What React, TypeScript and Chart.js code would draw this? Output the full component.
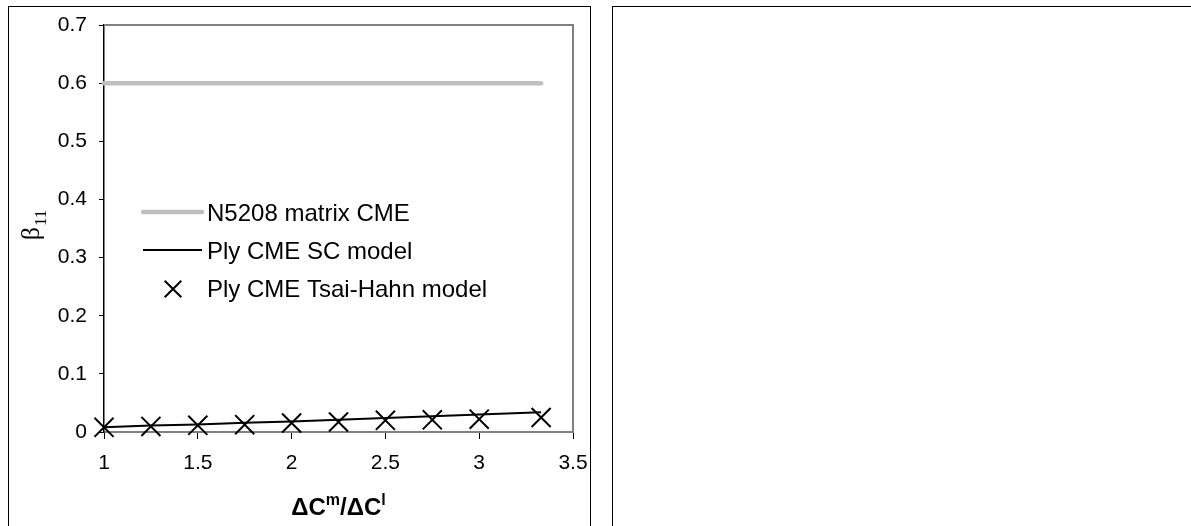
import React, { useEffect, useRef } from "react";
import { Chart, registerables } from "chart.js";

Chart.register(...registerables);

// ---- data ----
const xValues = [1, 1.25, 1.5, 1.75, 2, 2.25, 2.5, 2.75, 3, 3.33];
const matrixCME = [0.6, 0.6, 0.6, 0.6, 0.6, 0.6, 0.6, 0.6, 0.6, 0.6];
const scModel = [0.008, 0.011, 0.013, 0.016, 0.018, 0.021, 0.024, 0.027, 0.03, 0.034];
const tsaiHahn = [0.008, 0.0096, 0.0114, 0.0126, 0.0155, 0.0172, 0.02, 0.021, 0.022, 0.025];
const seriesNames = ["N5208 matrix CME", "Ply CME SC model", "Ply CME Tsai-Hahn model"];
const xTicks = [1, 1.5, 2, 2.5, 3, 3.5];
const yTicks = [0, 0.1, 0.2, 0.3, 0.4, 0.5, 0.6, 0.7];

const SANS = "'Liberation Sans', Arial, sans-serif";
const SERIF = "'Liberation Serif', 'Times New Roman', serif";

const CANVAS_W = 600;
const CANVAS_H = 526;

const decorPlugin = {
  id: "decor",
  beforeDatasetsDraw(chart: any) {
    const { ctx, chartArea } = chart;
    const { left, top, right, bottom } = chartArea;
    ctx.save();
    ctx.strokeStyle = "#808080";
    ctx.lineWidth = 2;
    ctx.beginPath();
    ctx.moveTo(left, top);
    ctx.lineTo(right, top);
    ctx.lineTo(right, bottom);
    ctx.stroke();
    ctx.restore();
  },
  afterDraw(chart: any) {
    const { ctx, chartArea } = chart;
    ctx.save();

    // ---- legend ----
    const lx0 = 143;
    const lx1 = 202;
    const tx = 207;
    const rows = [212, 250, 289];
    ctx.font = `24px ${SANS}`;
    ctx.fillStyle = "#000";
    ctx.textBaseline = "middle";
    ctx.textAlign = "left";

    // row 1: grey thick line
    ctx.strokeStyle = "#c0c0c0";
    ctx.lineWidth = 4.5;
    ctx.lineCap = "round";
    ctx.beginPath();
    ctx.moveTo(lx0, rows[0]);
    ctx.lineTo(lx1, rows[0]);
    ctx.stroke();
    ctx.fillText(seriesNames[0], tx, rows[0] + 2);

    // row 2: black line
    ctx.strokeStyle = "#000";
    ctx.lineWidth = 2;
    ctx.lineCap = "butt";
    ctx.beginPath();
    ctx.moveTo(lx0, rows[1]);
    ctx.lineTo(lx1, rows[1]);
    ctx.stroke();
    ctx.fillText(seriesNames[1], tx, rows[1] + 2);

    // row 3: X marker
    const cx = 173;
    const h = 8.3;
    ctx.beginPath();
    ctx.moveTo(cx - h, rows[2] - h);
    ctx.lineTo(cx + h, rows[2] + h);
    ctx.moveTo(cx + h, rows[2] - h);
    ctx.lineTo(cx - h, rows[2] + h);
    ctx.stroke();
    ctx.fillText(seriesNames[2], tx, rows[2] + 1);

    // ---- x axis title: ΔC^m/ΔC^l ----
    const segs = [
      { t: "\u0394", s: 24, dy: 0 },
      { t: "C", s: 24, dy: 0 },
      { t: "m", s: 16, dy: -10 },
      { t: "/", s: 24, dy: 0 },
      { t: "\u0394", s: 24, dy: 0 },
      { t: "C", s: 24, dy: 0 },
      { t: "l", s: 16, dy: -10 },
    ];
    ctx.textBaseline = "alphabetic";
    let total = 0;
    const widths: number[] = [];
    for (const sg of segs) {
      ctx.font = `bold ${sg.s}px ${SANS}`;
      const w = ctx.measureText(sg.t).width;
      widths.push(w);
      total += w;
    }
    let x = (chartArea.left + chartArea.right) / 2 - total / 2;
    const baseY = 515;
    segs.forEach((sg, i) => {
      ctx.font = `bold ${sg.s}px ${SANS}`;
      ctx.fillText(sg.t, x, baseY + sg.dy);
      x += widths[i];
    });

    // ---- y axis title: β11 ----
    ctx.save();
    ctx.translate(39, (chartArea.top + chartArea.bottom) / 2 - 3);
    ctx.rotate(-Math.PI / 2);
    ctx.font = `26px ${SERIF}`;
    const wb = ctx.measureText("\u03b2").width;
    ctx.font = `17px ${SERIF}`;
    const ws = ctx.measureText("11").width;
    const start = -(wb + ws) / 2;
    ctx.font = `26px ${SERIF}`;
    ctx.fillText("\u03b2", start, 0);
    ctx.font = `17px ${SERIF}`;
    ctx.fillText("11", start + wb + 1, 7);
    ctx.restore();

    ctx.restore();
  },
};

export default function App() {
  const canvasRef = useRef<HTMLCanvasElement | null>(null);

  useEffect(() => {
    if (!canvasRef.current) return;
    const chart = new Chart(canvasRef.current, {
      type: "line",
      data: {
        datasets: [
          {
            label: seriesNames[2],
            data: xValues.map((x, i) => ({ x, y: tsaiHahn[i] })),
            showLine: false,
            pointStyle: "crossRot",
            pointRadius: 13.5,
            pointBorderWidth: 2,
            pointBorderColor: "#000",
            pointBackgroundColor: "#000",
            borderColor: "#000",
            clip: false,
            order: 0,
          },
          {
            label: seriesNames[1],
            data: xValues.map((x, i) => ({ x, y: scModel[i] })),
            borderColor: "#000",
            borderWidth: 2,
            pointRadius: 0,
            tension: 0,
            clip: false,
            order: 1,
          },
          {
            label: seriesNames[0],
            data: xValues.map((x, i) => ({ x, y: matrixCME[i] })),
            borderColor: "#c0c0c0",
            borderWidth: 4.5,
            borderCapStyle: "round",
            pointRadius: 0,
            tension: 0,
            clip: false,
            order: 2,
          },
        ],
      },
      options: {
        responsive: false,
        animation: false,
        devicePixelRatio: 1,
        layout: { padding: { left: 0, top: 25, right: CANVAS_W - 573, bottom: 0 } },
        plugins: {
          legend: { display: false },
          tooltip: { enabled: false },
          title: { display: false },
        },
        scales: {
          x: {
            type: "linear",
            min: 1,
            max: 3.5,
            afterBuildTicks: (s: any) => {
              s.ticks = xTicks.map((v) => ({ value: v }));
            },
            afterFit: (s: any) => {
              s.height = CANVAS_H - 432;
            },
            ticks: {
              color: "#000",
              font: { family: SANS, size: 21 },
              padding: 12,
              autoSkip: false,
              maxRotation: 0,
              callback: (v: any) => String(v),
            },
            grid: {
              display: true,
              drawOnChartArea: false,
              drawTicks: true,
              tickLength: 7,
              color: "#000",
              lineWidth: 1,
            },
            border: { display: true, color: "#808080", width: 2 },
          },
          y: {
            type: "linear",
            min: 0,
            max: 0.7,
            afterBuildTicks: (s: any) => {
              s.ticks = yTicks.map((v) => ({ value: v }));
            },
            afterFit: (s: any) => {
              s.width = 104;
            },
            ticks: {
              color: "#000",
              font: { family: SANS, size: 21 },
              padding: 12,
              autoSkip: false,
              callback: (v: any) => String(v),
            },
            grid: {
              display: true,
              drawOnChartArea: false,
              drawTicks: true,
              tickLength: 5,
              color: "#000",
              lineWidth: 1,
            },
            border: { display: true, color: "#000", width: 1.5 },
          },
        },
      },
      plugins: [decorPlugin],
    } as any);
    return () => chart.destroy();
  }, []);

  return (
    <div
      style={{
        position: "fixed",
        left: 0,
        top: 0,
        width: 1191,
        height: 526,
        overflow: "hidden",
        background: "#fff",
      }}
    >
      <div
        style={{
          position: "absolute",
          left: 8,
          top: 6,
          width: 583,
          height: 560,
          border: "1px solid #000",
          boxSizing: "border-box",
        }}
      />
      <div
        style={{
          position: "absolute",
          left: 612,
          top: 6,
          width: 620,
          height: 560,
          border: "1px solid #000",
          boxSizing: "border-box",
        }}
      />
      <canvas
        ref={canvasRef}
        width={CANVAS_W}
        height={CANVAS_H}
        style={{ position: "absolute", left: 0, top: 0, width: CANVAS_W, height: CANVAS_H }}
      />
    </div>
  );
}
